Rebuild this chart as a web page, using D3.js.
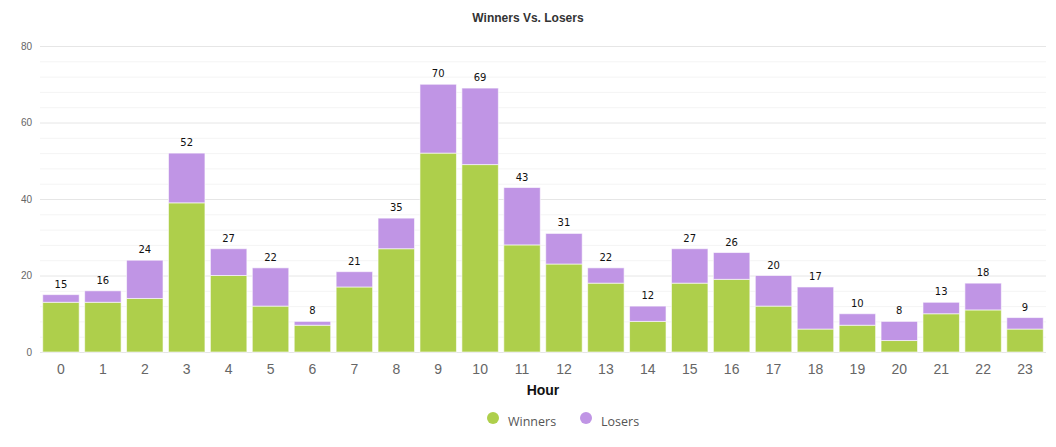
<!DOCTYPE html>
<html>
<head>
<meta charset="utf-8">
<script src="https://cdn.jsdelivr.net/npm/d3@7/dist/d3.min.js"></script>
<style>
  html, body { margin: 0; padding: 0; background: #fff; }
  svg { display: block; }
</style>
</head>
<body>
<svg id="chart" width="1056" height="447"></svg>
<script>
const hours = ["0","1","2","3","4","5","6","7","8","9","10","11","12","13","14","15","16","17","18","19","20","21","22","23"];
const winners = [13,13,14,39,20,12,7,17,27,52,49,28,23,18,8,18,19,12,6,7,3,10,11,6];
const losers  = [2,3,10,13,7,10,1,4,8,18,20,15,8,4,4,9,7,8,11,3,5,3,7,3];
const majorTicks = [0,20,40,60,80];
const seriesNames = ["Winners","Losers"];
const seriesColors = ["#aecf4b","#c095e5"];

const svg = d3.select("#chart");
const W = 1056, H = 447;
const m = {left: 40, right: 10, top: 46, bottom: 95};
const plotW = W - m.left - m.right, plotH = H - m.top - m.bottom;

const x = d3.scaleBand().domain(hours).range([m.left, m.left + plotW]).paddingInner(0.13).paddingOuter(0.065);
const y = d3.scaleLinear().domain([0, 80]).range([m.top + plotH, m.top]);

// minor grid
const minor = d3.range(0, 81, 4).filter(v => v % 20 !== 0);
svg.append("g").selectAll("line").data(minor).join("line")
  .attr("x1", m.left).attr("x2", m.left + plotW)
  .attr("y1", d => y(d) + 0.5).attr("y2", d => y(d) + 0.5)
  .attr("stroke", "#f4f4f4").attr("stroke-width", 1);

// major grid
svg.append("g").selectAll("line").data(majorTicks).join("line")
  .attr("x1", m.left).attr("x2", m.left + plotW)
  .attr("y1", d => y(d) + 0.5).attr("y2", d => y(d) + 0.5)
  .attr("stroke", "#e6e6e6").attr("stroke-width", 1);

// y axis labels
const yAxis = d3.axisLeft(y).tickValues(majorTicks).tickSize(0).tickPadding(8);
const gy = svg.append("g").attr("transform", `translate(${m.left},0)`).call(yAxis);
gy.select(".domain").remove();
gy.selectAll("text").attr("font-family", "Liberation Sans, Arial, sans-serif").attr("font-size", 10).attr("fill", "#666");

// stacked data
const data = hours.map((h, i) => ({hour: h, Winners: winners[i], Losers: losers[i]}));
const stack = d3.stack().keys(seriesNames)(data);

svg.append("g").selectAll("g").data(stack).join("g")
  .attr("fill", (d, i) => seriesColors[i])
  .selectAll("rect").data(d => d).join("rect")
  .attr("x", d => x(d.data.hour))
  .attr("width", x.bandwidth())
  .attr("y", d => y(d[1]))
  .attr("height", d => y(d[0]) - y(d[1]))
  .attr("stroke", "rgba(255,255,255,0.6)")
  .attr("stroke-width", 1);

// total labels
svg.append("g").selectAll("text").data(data).join("text")
  .attr("x", d => x(d.hour) + x.bandwidth() / 2)
  .attr("y", d => y(d.Winners + d.Losers) - 7)
  .attr("text-anchor", "middle")
  .attr("font-family", "DejaVu Sans, Verdana, sans-serif")
  .attr("font-size", 10)
  .attr("fill", "#111")
  .text(d => d.Winners + d.Losers);

// x axis
const xAxis = d3.axisBottom(x).tickSize(0).tickPadding(12);
const gx = svg.append("g").attr("transform", `translate(0,${m.top + plotH})`).call(xAxis);
gx.select(".domain").remove();
gx.selectAll("text").attr("font-family", "Liberation Sans, Arial, sans-serif").attr("font-size", 14).attr("fill", "#666");

// axis title
svg.append("text").attr("x", x(hours[0]) + (x(hours[23]) + x.bandwidth() - x(hours[0])) / 2).attr("y", 395)
  .attr("text-anchor", "middle").attr("font-family", "Liberation Sans, Arial, sans-serif")
  .attr("font-size", 14).attr("font-weight", "bold").attr("fill", "#111").text("Hour");

// title
svg.append("text").attr("x", 528).attr("y", 22)
  .attr("text-anchor", "middle").attr("font-family", "Liberation Sans, Arial, sans-serif")
  .attr("font-size", 12).attr("font-weight", "bold").attr("fill", "#333").text("Winners Vs. Losers");

// legend
const legendX = [493, 586];
const lg = svg.append("g").selectAll("g").data(seriesNames).join("g")
  .attr("transform", (d, i) => `translate(${legendX[i]},419)`);
lg.append("circle").attr("r", 6).attr("cy", -1).attr("fill", (d, i) => seriesColors[i]);
lg.append("text").attr("x", 15).attr("y", 7)
  .attr("font-family", "Open Sans, DejaVu Sans, sans-serif").attr("font-size", 12.5)
  .attr("fill", "#555").text(d => d);
</script>
</body>
</html>
